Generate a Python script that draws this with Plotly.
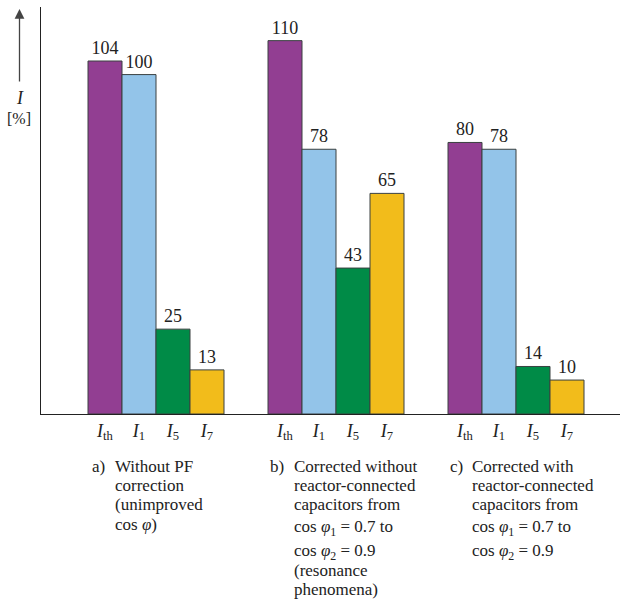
import plotly.graph_objects as go

# ---- data ----
groups = ["a", "b", "c"]
series_names = ["I_th", "I_1", "I_5", "I_7"]
tick_labels = ["<i>I</i><sub>th</sub>", "<i>I</i><sub>1</sub>", "<i>I</i><sub>5</sub>", "<i>I</i><sub>7</sub>"]
values_Ith = [104, 110, 80]
values_I1 = [100, 78, 78]
values_I5 = [25, 43, 14]
values_I7 = [13, 65, 10]
captions_label = ["a)", "b)", "c)"]
captions_lines = [
    ["Without PF", "correction", "(unimproved", "cos <i>φ</i>)"],
    ["Corrected without", "reactor-connected", "capacitors from",
     "cos <i>φ</i><sub>1</sub> = 0.7 to", "cos <i>φ</i><sub>2</sub> = 0.9",
     "(resonance", "phenomena)"],
    ["Corrected with", "reactor-connected", "capacitors from",
     "cos <i>φ</i><sub>1</sub> = 0.7 to", "cos <i>φ</i><sub>2</sub> = 0.9"],
]

colors = ["#923e92", "#93c4e9", "#008b47", "#f2bc1b"]
all_values = [values_Ith, values_I1, values_I5, values_I7]

W, H = 620, 599
ML, MR, MT = 41, 0, 7
AXIS_Y = 414
MB = H - AXIS_Y
PW, PH = W - ML - MR, H - MT - MB

GROUP_STEP = 180 / 34  # group spacing in bar widths
group_offsets = [g * GROUP_STEP for g in range(len(groups))]

SERIF = "Liberation Serif"
TXT = "#222"

fig = go.Figure()
for s, (name, vals, col) in enumerate(zip(series_names, all_values, colors)):
    fig.add_trace(go.Bar(
        x=[off + s for off in group_offsets],
        y=vals,
        width=1.0,
        name=name,
        marker=dict(color=col, line=dict(color="#3a4040", width=1)),
        text=[str(v) for v in vals],
        textposition="outside",
        textfont=dict(family=SERIF, size=18, color=TXT),
        cliponaxis=False,
        hoverinfo="skip",
    ))

tickvals = [off + s for off in group_offsets for s in range(len(series_names))]
ticktext = [tick_labels[s] for _ in group_offsets for s in range(len(series_names))]

x_left = (ML - 88) / 34 - 0.5
x_right = x_left + PW / 34
y_top = (AXIS_Y - MT) / ((414 - 61) / 104)

fig.update_layout(
    width=W, height=H,
    margin=dict(l=ML, r=MR, t=MT, b=MB, pad=0),
    paper_bgcolor="white", plot_bgcolor="white",
    showlegend=False,
    barmode="overlay",
    xaxis=dict(
        range=[x_left, x_right], tickvals=tickvals, ticktext=ticktext,
        showgrid=False, zeroline=False, showline=True, linecolor="#222", linewidth=1.2,
        ticks="", tickfont=dict(family=SERIF, size=18, color=TXT),
        ticklabelstandoff=0,
    ),
    yaxis=dict(
        range=[0, y_top], showticklabels=False, ticks="", showgrid=False,
        zeroline=False, showline=True, linecolor="#222", linewidth=1.2,
    ),
)

def px_x(p):
    return (p - ML) / PW

def px_y(p):
    return (AXIS_Y - p) / PH

ann = []
# y-axis arrow
ann.append(dict(xref="paper", yref="paper", x=px_x(19.5), y=px_y(9), ax=0, ay=74,
                axref="pixel", ayref="pixel", showarrow=True, arrowhead=2, arrowsize=1.5,
                arrowwidth=1.3, arrowcolor="#444", text=""))
ann.append(dict(xref="paper", yref="paper", x=px_x(20), y=px_y(98), text="<i>I</i>",
                xanchor="center", yanchor="middle",
                showarrow=False, font=dict(family=SERIF, size=18, color=TXT)))
ann.append(dict(xref="paper", yref="paper", x=px_x(19), y=px_y(119), text="[%]",
                xanchor="center", yanchor="middle",
                showarrow=False, font=dict(family=SERIF, size=16, color=TXT)))

label_x = [90, 268, 448]
text_x = [113, 292, 470]
CAP_SIZE = 17
for lx, tx, lab, lines in zip(label_x, text_x, captions_label, captions_lines):
    base = 473.0
    ann.append(dict(xref="paper", yref="paper", x=px_x(lx), y=px_y(base - 18), text=lab,
                    xanchor="left", yanchor="top", showarrow=False, align="left",
                    font=dict(family=SERIF, size=CAP_SIZE, color=TXT)))
    prev_sub = False
    for i, line in enumerate(lines):
        cur_sub = "<sub>" in line
        if i > 0:
            base += 19.2 + (2.5 if cur_sub else 0) + (2.5 if (cur_sub and prev_sub) else 0)
        prev_sub = cur_sub
        ann.append(dict(xref="paper", yref="paper", x=px_x(tx), y=px_y(base - 18), text=line,
                        xanchor="left", yanchor="top", showarrow=False, align="left",
                        font=dict(family=SERIF, size=CAP_SIZE, color=TXT)))
fig.update_layout(annotations=ann)

fig.write_html(
    "out.html",
    config={"displayModeBar": False},
    post_script="document.body.style.margin='0';document.body.style.overflow='hidden';",
)
